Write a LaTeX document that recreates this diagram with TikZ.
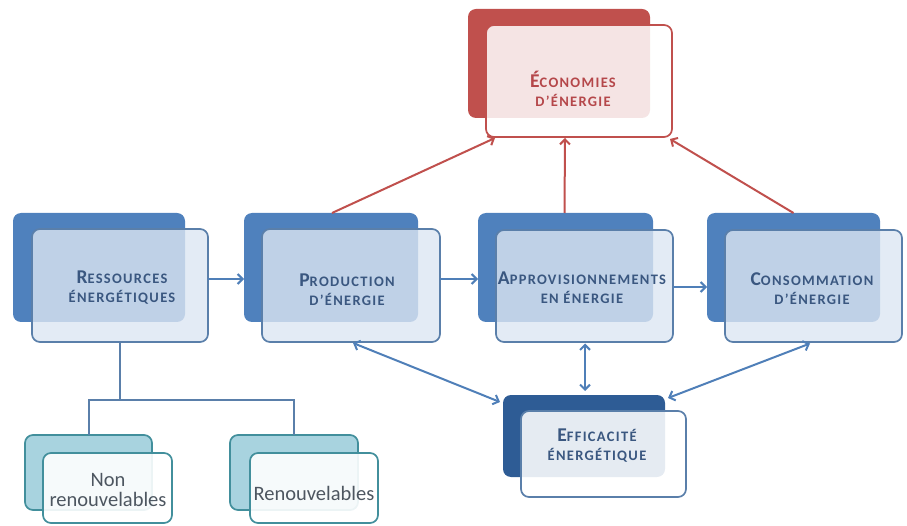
\documentclass[tikz,border=0pt]{standalone}
\usepackage{fontspec}
\setmainfont{Carlito}
\newfontfamily\tfont{Carlito}[LetterSpace=9]
\usetikzlibrary{arrows.meta}
\definecolor{bback}{HTML}{4F81BD}
\definecolor{bfront}{HTML}{DCE6F2}
\definecolor{bedge}{HTML}{5A7FAA}
\definecolor{btext}{HTML}{3A5780}
\definecolor{dback}{HTML}{2E5C95}
\definecolor{rback}{HTML}{C0504D}
\definecolor{redge}{HTML}{C0504D}
\definecolor{rtext}{HTML}{B5474A}
\definecolor{tback}{HTML}{A8D3DF}
\definecolor{tedge}{HTML}{428F9C}
\definecolor{gtext}{HTML}{4D5660}
\definecolor{barrow}{HTML}{4F7FB8}
\newcommand{\BigL}[1]{{\fontsize{19.5}{19}\selectfont #1}}
\newcommand{\SmL}[1]{{\fontsize{14.5}{19}\selectfont #1}}
\tikzset{
  box/.style={rectangle, rounded corners=8pt, inner sep=0pt, outer sep=0pt, line width=1.7pt},
  backbox/.style={box, fill=bback},
  frontbox/.style={box, draw=bedge, fill=bfront, fill opacity=0.8},
  darkback/.style={box, fill=dback},
  redback/.style={box, fill=rback},
  redfront/.style={box, draw=redge, fill=white, fill opacity=0.85},
  tealback/.style={box, fill=tback, draw=tedge},
  tealfront/.style={box, draw=tedge, fill=white, fill opacity=0.9},
  title/.style={font=\tfont\bfseries\fontsize{14.5}{19}\selectfont, text=btext, align=center, inner sep=0pt},
  leaf/.style={font=\fontsize{20.5}{20}\selectfont, text=gtext, align=center, inner sep=0pt},
  barr/.style={draw=barrow, line width=2pt, -{Straight Barb[length=5pt,width=10pt]}},
  bdbl/.style={draw=barrow, line width=2pt, {Straight Barb[length=5pt,width=10pt]}-{Straight Barb[length=5pt,width=10pt]}},
  rarr/.style={draw=redge, line width=2pt, -{Straight Barb[length=5pt,width=10pt]}},
  tline/.style={draw=bedge, line width=2pt}
}
\begin{document}
\begin{tikzpicture}[x=1pt,y=-1pt]
\useasboundingbox (0,0) rectangle (907,526);
% Economies
\node[redback, minimum width=182pt, minimum height=109pt] (ecoB) at (559,63.5) {};
\node[redfront, minimum width=186pt, minimum height=112pt] (ecoF) at (579,81) {};
\node[title, text=rtext] (ecoT) at (573,89) {\BigL{É}\SmL{CONOMIES}\\\SmL{D’ÉNERGIE}};
% Ressources
\node[backbox, minimum width=172pt, minimum height=109pt] (resB) at (99,267.5) {};
\node[frontbox, minimum width=176pt, minimum height=113pt] (resF) at (120,285.5) {};
\node[title] (resT) at (122,288) {\BigL{R}\SmL{ESSOURCES}\\\SmL{ÉNERGÉTIQUES}};
% Production
\node[backbox, minimum width=174pt, minimum height=109pt] (prodB) at (331,267.5) {};
\node[frontbox, minimum width=178pt, minimum height=113pt] (prodF) at (351,285.5) {};
\node[title] (prodT) at (347,290) {\BigL{P}\SmL{RODUCTION}\\\SmL{D’ÉNERGIE}};
% Approvisionnements
\node[backbox, minimum width=175pt, minimum height=109pt] (appB) at (565.5,267.5) {};
\node[frontbox, minimum width=177pt, minimum height=112pt] (appF) at (584.5,286) {};
\node[title] (appT) at (582,288) {\BigL{A}\SmL{PPROVISIONNEMENTS}\\\SmL{EN ÉNERGIE}};
% Consommation
\node[backbox, minimum width=173pt, minimum height=109pt] (consB) at (793.5,267.5) {};
\node[frontbox, minimum width=177pt, minimum height=112pt] (consF) at (813.5,286) {};
\node[title] (consT) at (812,289) {\BigL{C}\SmL{ONSOMMATION}\\\SmL{D’ÉNERGIE}};
% Efficacite
\node[darkback, minimum width=162pt, minimum height=82pt] (effB) at (584,436) {};
\node[frontbox, fill=white, fill opacity=0.88, minimum width=165pt, minimum height=86pt] (effF) at (603.5,454) {};
\node[title] (effT) at (597,446) {\BigL{E}\SmL{FFICACITÉ}\\\SmL{ÉNERGÉTIQUE}};
% Leaves
\node[tealback, minimum width=127pt, minimum height=75pt] (nonB) at (88.5,472.5) {};
\node[tealfront, minimum width=129pt, minimum height=70pt] (nonF) at (107.5,488) {};
\node[leaf] (nonT) at (108,490) {Non\\renouvelables};
\node[tealback, minimum width=128pt, minimum height=75pt] (renB) at (294,472.5) {};
\node[tealfront, minimum width=128pt, minimum height=70pt] (renF) at (314,488) {};
\node[leaf] (renT) at (314,493) {Renouvelables};
% Tree
\coordinate (bus) at (0,400);
\draw[tline] (resF.south) -- (resF.south |- bus);
\draw[tline] (nonB.north) -- (nonB.north |- bus) -- (renB.north |- bus) -- (renB.north);
% Horizontal arrows
\draw[barr] ([yshift=6.5pt]resF.east) -- ([yshift=-11.5pt]prodB.west);
\draw[barr] ([yshift=6.5pt]prodF.east) -- ([yshift=-11.5pt]appB.west);
\draw[barr] ([yshift=-1pt]appF.east) -- ([yshift=-19.5pt]consB.west);
% Red arrows
\draw[rarr] ([xshift=1pt]prodB.north) -- ([xshift=-84pt,yshift=-1pt]ecoF.south);
\draw[rarr] ([xshift=-1pt]appB.north) -- ([xshift=-14pt,yshift=-1pt]ecoF.south);
\draw[rarr] (consB.north) -- ([xshift=91pt,yshift=-2pt]ecoF.south);
% Double arrows
\draw[bdbl] ([xshift=2pt,yshift=-1pt]prodF.south) -- ([xshift=-3pt,yshift=-7pt]effB.north west);
\draw[bdbl] ([xshift=0.5pt,yshift=-1.5pt]appF.south) -- ([xshift=1pt,yshift=4pt]effB.north);
\draw[bdbl] ([xshift=-3.5pt,yshift=-1.5pt]consF.south) -- ([xshift=3pt,yshift=-3pt]effB.north east);
\end{tikzpicture}
\end{document}
